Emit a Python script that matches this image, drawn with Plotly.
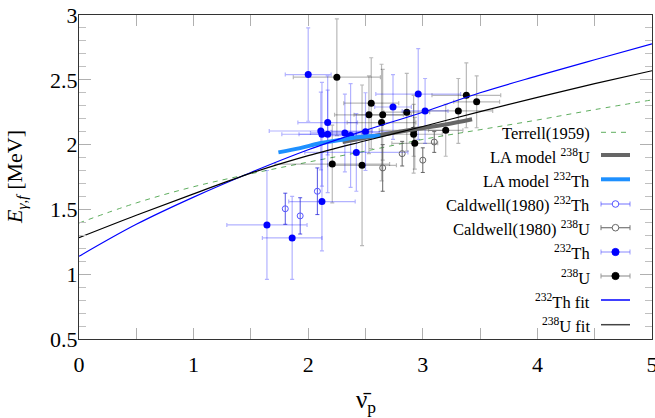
import plotly.graph_objects as go

# ---------------- data ----------------
th_x = [1.64, 1.86, 2.00, 2.11, 2.12, 2.12, 2.17, 2.17, 2.32, 2.37, 2.42, 2.50, 2.74, 2.96, 3.02]
th_y = [1.38, 1.28, 2.54, 2.105, 2.08, 1.56, 2.17, 2.08, 2.09, 2.07, 1.94, 2.10, 2.29, 2.39, 2.26]
th_ex = [0.35, 0.26, 0.20, 0.45, 0.35, 0.29, 0.26, 0.25, 0.30, 0.25, 0.45, 0.30, 0.16, 0.37, 0.20]
th_ey = [0.42, 0.32, 0.36, 0.30, 0.40, 0.38, 0.25, 0.45, 0.30, 0.40, 0.30, 0.30, 0.25, 0.35, 0.25]

u_x = [2.21, 2.25, 2.47, 2.53, 2.55, 2.64, 2.65, 2.86, 2.92, 2.92, 2.93, 3.20, 3.31, 3.38, 3.47]
u_y = [1.85, 2.52, 1.84, 2.23, 2.32, 2.17, 2.23, 2.25, 2.11, 2.08, 2.01, 2.11, 2.26, 2.38, 2.33]
u_ex = [0.50, 0.38, 0.30, 0.30, 0.24, 0.30, 0.25, 0.20, 0.30, 0.25, 0.20, 0.15, 0.30, 0.30, 0.20]
u_ey = [0.30, 0.45, 0.62, 0.30, 0.35, 0.45, 0.35, 0.30, 0.20, 0.30, 0.20, 0.20, 0.25, 0.25, 0.20]

cth_x = [1.80, 1.93, 2.08]
cth_y = [1.505, 1.45, 1.64]
cth_ey = [0.12, 0.14, 0.18]

cu_x = [2.65, 2.82, 3.00, 3.10]
cu_y = [1.82, 1.93, 1.88, 2.02]
cu_ey = [0.18, 0.095, 0.095, 0.08]

fit_x = [0, 0.5, 1, 1.5, 2, 2.5, 3, 3.5, 4, 4.5, 5]
th_fit_y = [1.138, 1.385, 1.595, 1.785, 1.96, 2.11, 2.25, 2.40, 2.53, 2.655, 2.777]
u_fit_y = [1.282, 1.455, 1.62, 1.78, 1.915, 2.03, 2.14, 2.255, 2.365, 2.47, 2.57]
terrell_y = [1.395, 1.55, 1.675, 1.775, 1.865, 1.95, 2.04, 2.115, 2.19, 2.27, 2.345]

la_th_x = [1.74, 1.93, 2.10, 2.28, 2.45, 2.63]
la_th_y = [1.94, 1.973, 2.01, 2.036, 2.058, 2.068]
la_u_x = [2.30, 2.60, 2.90, 3.20, 3.43]
la_u_y = [2.02, 2.07, 2.115, 2.155, 2.195]

x_ticks = [0, 1, 2, 3, 4, 5]
y_ticks = [0.5, 1, 1.5, 2, 2.5, 3]

legend_labels = [
    "Terrell(1959)",
    "LA model <sup>238</sup>U",
    "LA model <sup>232</sup>Th",
    "Caldwell(1980) <sup>232</sup>Th",
    "Caldwell(1980) <sup>238</sup>U",
    "<sup>232</sup>Th",
    "<sup>238</sup>U",
    "<sup>232</sup>Th fit",
    "<sup>238</sup>U fit",
]

# ---------------- styling ----------------
FONT = "Liberation Serif, 'Times New Roman', Times, serif"
W, H = 655, 418
ML, MR, MT, MB = 79, 3, 15, 79
PW, PH = W - ML - MR, H - MT - MB

BLUE = "#0000ff"
BLUE_ERR = "rgba(0,0,255,0.30)"
GRAY_ERR = "rgba(0,0,0,0.28)"
DODGER = "#1e90ff"
LA_GRAY = "#666666"
GREEN = "#5fae5f"

fig = go.Figure()

fig.add_trace(go.Scatter(x=fit_x, y=terrell_y, mode="lines", line=dict(color=GREEN, width=1, dash="5px,5px", shape="spline"), showlegend=False))

fig.add_trace(go.Scatter(
    x=u_x, y=u_y, mode="markers",
    marker=dict(color="black", size=7),
    error_x=dict(type="data", array=u_ex, color=GRAY_ERR, thickness=1.2, width=2),
    error_y=dict(type="data", array=u_ey, color=GRAY_ERR, thickness=1.2, width=2),
    showlegend=False))
fig.add_trace(go.Scatter(
    x=th_x, y=th_y, mode="markers",
    marker=dict(color=BLUE, size=7),
    error_x=dict(type="data", array=th_ex, color=BLUE_ERR, thickness=1.2, width=2),
    error_y=dict(type="data", array=th_ey, color=BLUE_ERR, thickness=1.2, width=2),
    showlegend=False))
fig.add_trace(go.Scatter(
    x=cth_x, y=cth_y, mode="markers",
    marker=dict(symbol="circle-open", color="#5555ff", size=6, line=dict(width=1)),
    error_y=dict(type="data", array=cth_ey, color="rgba(40,40,220,0.8)", thickness=1, width=2),
    showlegend=False))
fig.add_trace(go.Scatter(
    x=cu_x, y=cu_y, mode="markers",
    marker=dict(symbol="circle-open", color="#666666", size=6, line=dict(width=1)),
    error_y=dict(type="data", array=cu_ey, color="#666666", thickness=1, width=2),
    showlegend=False))

fig.add_trace(go.Scatter(x=la_u_x, y=la_u_y, mode="lines", line=dict(color=LA_GRAY, width=4, shape="spline"), showlegend=False))
fig.add_trace(go.Scatter(x=la_th_x, y=la_th_y, mode="lines", line=dict(color=DODGER, width=4, shape="spline"), showlegend=False))

fig.add_trace(go.Scatter(x=fit_x, y=th_fit_y, mode="lines", line=dict(color=BLUE, width=1.2, shape="spline"), showlegend=False))
fig.add_trace(go.Scatter(x=fit_x, y=u_fit_y, mode="lines", line=dict(color="black", width=1.2, shape="spline"), showlegend=False))

# ---------------- custom legend (text right-aligned, symbol on the right) ----------------
def px2x(px):
    return (px - ML) / PW

def py2y(py):
    return (H - MB - py) / PH

row_py = [132.3, 155, 179.3, 204, 227.7, 252, 276, 300, 324.7]
text_right = px2x(591.5)
sx0, sx1, sxc = px2x(601), px2x(630), px2x(615.5)

shapes = []
annotations = []
for lab, py in zip(legend_labels, row_py):
    annotations.append(dict(xref="paper", yref="paper", x=text_right, y=py2y(py + 1), text=lab,
                            showarrow=False, xanchor="right", yanchor="middle",
                            font=dict(family=FONT, size=16.5, color="black")))

def hline(yy, color, width, dash=None):
    d = dict(type="line", xref="paper", yref="paper", x0=sx0, x1=sx1, y0=yy, y1=yy,
             line=dict(color=color, width=width))
    if dash:
        d["line"]["dash"] = dash
    shapes.append(d)

def caps(yy, color):
    for xx in (sx0, sx1):
        shapes.append(dict(type="line", xref="paper", yref="paper", x0=xx, x1=xx,
                           ysizemode="pixel", yanchor=yy, y0=-2.5, y1=2.5,
                           line=dict(color=color, width=1)))

def circ(yy, color, filled, r=3.3):
    shapes.append(dict(type="circle", xref="paper", yref="paper",
                       xsizemode="pixel", ysizemode="pixel", xanchor=sxc, yanchor=yy,
                       x0=-r, x1=r, y0=-r, y1=r,
                       line=dict(color=color, width=1),
                       fillcolor=color if filled else "white"))

ys = [py2y(p) for p in row_py]
hline(ys[0], GREEN, 1, "5px,5px")
hline(ys[1], LA_GRAY, 4)
hline(ys[2], DODGER, 4)
hline(ys[3], "rgba(60,60,255,0.6)", 1.2); caps(ys[3], "rgba(60,60,255,0.6)"); circ(ys[3], "#5555ff", False)
hline(ys[4], "#777777", 1.2); caps(ys[4], "#777777"); circ(ys[4], "#666666", False)
hline(ys[5], "rgba(60,60,255,0.5)", 1.2); caps(ys[5], "rgba(60,60,255,0.5)"); circ(ys[5], BLUE, True, 3.6)
hline(ys[6], "#999999", 1.2); caps(ys[6], "#999999"); circ(ys[6], "black", True, 3.6)
hline(ys[7], BLUE, 1.5)
hline(ys[8], "#444444", 1.5)

# axis titles
annotations.append(dict(xref="paper", yref="paper", x=0.5, y=py2y(401), text="ν̄<sub>p</sub>",
                        showarrow=False, xanchor="center", yanchor="middle",
                        font=dict(family=FONT, size=25, color="black")))
annotations.append(dict(xref="paper", yref="paper", x=px2x(16), y=0.5,
                        text="<i>E</i><sub><i>γ,f</i></sub> [MeV]", textangle=-90,
                        showarrow=False, xanchor="center", yanchor="middle",
                        font=dict(family=FONT, size=22, color="black")))

axis_common = dict(
    showgrid=False, zeroline=False, showline=True, linecolor="#333333", linewidth=1.3,
    mirror="allticks", ticks="inside", tickcolor="#b0b0b0", tickwidth=1.3,
    tickfont=dict(family=FONT, size=22, color="black"), automargin=False,
    ticklabeloverflow="allow",
)

fig.update_layout(
    width=W, height=H,
    margin=dict(l=ML, r=MR, t=MT, b=MB, pad=0),
    paper_bgcolor="white", plot_bgcolor="white",
    showlegend=False,
    shapes=shapes, annotations=annotations,
    xaxis=dict(range=[0, 5], tickvals=x_ticks, ticklen=11, ticklabelstandoff=5,
               minor=dict(dtick=0.5, ticklen=11, tickcolor="#b0b0b0", ticks="inside", tickwidth=1.3),
               **axis_common),
    yaxis=dict(range=[0.5, 3], tickvals=y_ticks, ticklen=12, ticklabelstandoff=-4,
               minor=dict(dtick=0.1, ticklen=7, tickcolor="#c0c0c0", ticks="inside", tickwidth=1.3),
               **axis_common),
)

fig.write_html("out.html")
